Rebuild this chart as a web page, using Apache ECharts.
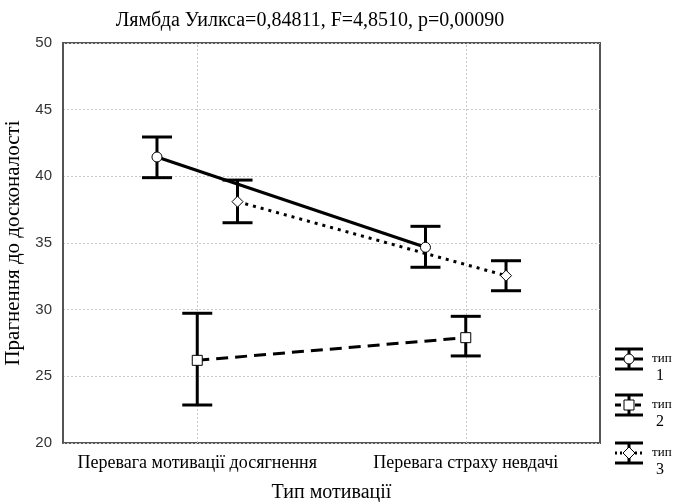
<!DOCTYPE html>
<html><head><meta charset="utf-8">
<script src="https://cdn.jsdelivr.net/npm/echarts@6/dist/echarts.min.js"></script>
<style>html,body{margin:0;padding:0;background:#fff}#c{width:682px;height:502px}</style>
</head><body><div id="c"></div>
<script>
var categories = ['Перевага мотивації досягнення', 'Перевага страху невдачі'];
var yTicks = [20, 25, 30, 35, 40, 45, 50];
var seriesNames = ['тип 1', 'тип 2', 'тип 3'];
var type1Mean = [41.45, 34.68];
var type1Low  = [39.9, 33.18];
var type1High = [42.95, 36.25];
var type2Mean = [26.2, 27.9];
var type2Low  = [22.85, 26.53];
var type2High = [29.73, 29.5];
var type3Mean = [38.1, 32.55];
var type3Low  = [36.52, 31.42];
var type3High = [39.72, 33.67];
var offsets = [-0.15, 0, 0.15];

var means = [type1Mean, type2Mean, type3Mean];
var lows = [type1Low, type2Low, type3Low];
var highs = [type1High, type2High, type3High];
var symbols = ['circle', 'rect', 'diamond'];
var symbolSizes = [10, 10, 11];
var lineTypes = ['solid', [12, 7], [3, 5]];

var chart = echarts.init(document.getElementById('c'));
var serif = '"Liberation Serif", "Times New Roman", serif';
var series = [{
  type: 'line', xAxisIndex: 1, yAxisIndex: 0, z: 1, data: [], silent: true,
  markLine: {
    z: 1, zlevel: 0,
    silent: true, symbol: ['none', 'none'], label: { show: false }, animation: false,
    lineStyle: { color: '#c8c8c8', width: 1, type: [2, 2] },
    data: categories.map(function (c, k) { return { xAxis: k }; })
  }
}];
for (var s = 0; s < 3; s++) {
  var errData = [], lineData = [];
  for (var i = 0; i < categories.length; i++) {
    errData.push([i + offsets[s], lows[s][i], highs[s][i]]);
    lineData.push([i + offsets[s], means[s][i]]);
  }
  series.push({
    type: 'custom', xAxisIndex: 1, yAxisIndex: 0, silent: true, z: 6,
    data: errData,
    renderItem: function (params, api) {
      var x = api.value(0);
      var lo = api.coord([x, api.value(1)]);
      var hi = api.coord([x, api.value(2)]);
      var hw = 15;
      var st = { stroke: '#000', lineWidth: 3 };
      return { type: 'group', children: [
        { type: 'line', shape: { x1: lo[0], y1: lo[1], x2: hi[0], y2: hi[1] }, style: st },
        { type: 'line', shape: { x1: lo[0] - hw, y1: lo[1], x2: lo[0] + hw, y2: lo[1] }, style: st },
        { type: 'line', shape: { x1: hi[0] - hw, y1: hi[1], x2: hi[0] + hw, y2: hi[1] }, style: st }
      ]};
    }
  });
  series.push({
    name: seriesNames[s], type: 'line', xAxisIndex: 1, yAxisIndex: 0, z: 8,
    data: lineData, symbol: symbols[s], symbolSize: symbolSizes[s], showSymbol: true,
    lineStyle: { color: '#000', width: 3, type: lineTypes[s] },
    itemStyle: { color: '#fff', borderColor: '#000', borderWidth: 1 },
    animation: false
  });
}

var legendGraphics = [];
var legendY = [359, 405, 453];
for (var k = 0; k < 3; k++) {
  var cy = legendY[k], x0 = 615, x1 = 643, cx = 629;
  var st = { stroke: '#000', lineWidth: 3 };
  legendGraphics.push({ type: 'line', shape: { x1: x0, y1: cy - 10, x2: x1, y2: cy - 10 }, style: st });
  legendGraphics.push({ type: 'line', shape: { x1: x0, y1: cy + 10, x2: x1, y2: cy + 10 }, style: st });
  legendGraphics.push({ type: 'line', shape: { x1: cx, y1: cy - 10, x2: cx, y2: cy + 10 }, style: st });
  legendGraphics.push({ type: 'line', shape: { x1: x0, y1: cy, x2: x1, y2: cy },
    style: { stroke: '#000', lineWidth: 3, lineDash: k === 0 ? null : (k === 1 ? [6, 4] : [2, 3]) } });
  var mk;
  if (k === 0) mk = { type: 'circle', shape: { cx: cx, cy: cy, r: 5 } };
  else if (k === 1) mk = { type: 'rect', shape: { x: cx - 5, y: cy - 5, width: 10, height: 10 } };
  else mk = { type: 'polygon', shape: { points: [[cx, cy - 6], [cx + 6, cy], [cx, cy + 6], [cx - 6, cy]] } };
  mk.style = { fill: '#fff', stroke: '#000', lineWidth: 1 };
  legendGraphics.push(mk);
  legendGraphics.push({ type: 'text', x: 652, y: cy, style: { text: 'тип', font: '13px ' + serif, fill: '#000', textVerticalAlign: 'middle' } });
  legendGraphics.push({ type: 'text', x: 656, y: cy + 17, style: { text: String(k + 1), font: '16px ' + serif, fill: '#000', textVerticalAlign: 'middle' } });
}

chart.setOption({
  animation: false,
  backgroundColor: '#fff',
  title: {
    text: 'Лямбда Уилкса=0,84811, F=4,8510, p=0,00090',
    left: 305, top: 6, textAlign: 'center',
    textStyle: { fontFamily: serif, fontSize: 20, fontWeight: 'normal', color: '#000' }
  },
  grid: { left: 63, right: 82, top: 43, bottom: 59, containLabel: false, outerBoundsMode: 'none',
    show: true, borderColor: '#555', borderWidth: 2, backgroundColor: 'transparent' },
  xAxis: [{
    type: 'category', data: categories, position: 'bottom',
    axisLine: { show: false }, axisTick: { show: false }, splitLine: { show: false },
    axisLabel: { fontFamily: serif, fontSize: 18, color: '#000', margin: 11, interval: 0, hideOverlap: false },
    name: 'Тип мотивації', nameLocation: 'middle', nameGap: 40,
    nameTextStyle: { fontFamily: serif, fontSize: 20, color: '#000' }
  }, {
    type: 'value', min: -0.5, max: 1.5, show: false, splitLine: { show: false }
  }],
  yAxis: [{
    type: 'value', min: yTicks[0], max: yTicks[yTicks.length - 1], interval: 5,
    axisLine: { show: true, onZero: false, lineStyle: { color: '#555', width: 2 } },
    axisTick: { show: false },
    axisLabel: { fontFamily: '"Liberation Sans", Arial, sans-serif', fontSize: 15, color: '#333', margin: 11 },
    splitLine: { show: true, lineStyle: { color: '#c8c8c8', width: 1, type: [2, 2] } },
    name: 'Прагнення до досконалості', nameLocation: 'middle', nameGap: 31, nameRotate: 90,
    nameTextStyle: { fontFamily: serif, fontSize: 21, color: '#000' }
  }],
  series: series,
  graphic: legendGraphics
});
</script>
</body></html>
